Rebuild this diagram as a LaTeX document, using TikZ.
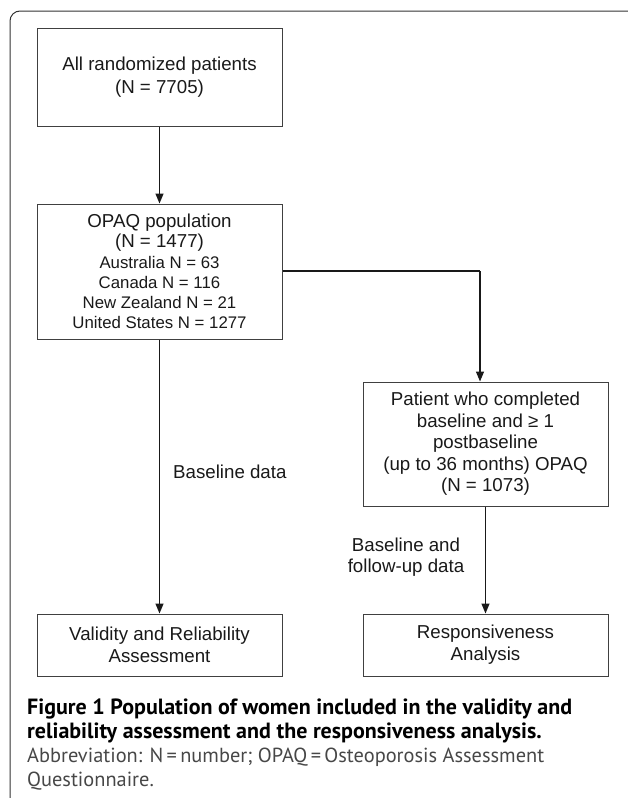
\documentclass[tikz,border=0pt]{standalone}
\usepackage{fontspec}
\setmainfont{Liberation Sans}
\newfontfamily\capfont{PT Sans}
\usetikzlibrary{arrows.meta}
\newcommand\smtxt{\fontsize{16.8}{20.2}\selectfont}
\newlength\capwd
\newlength\abbwd
\begin{document}
\settowidth\capwd{\capfont\bfseries\fontsize{20}{24}\selectfont Figure 1 Population of women included in the validity and}%
\settowidth\abbwd{\capfont\fontsize{20}{24}\selectfont Abbreviation: N\,=\,number; OPAQ\,=\,Osteoporosis Assessment}%
\pgfmathsetmacro\capsize{20*545/\capwd}%
\pgfmathsetmacro\abbsize{20*517/\abbwd}%
\begin{tikzpicture}[x=1pt,y=-1pt,
  box/.style={draw=black!75, line width=1pt, minimum width=245pt, inner sep=0pt, align=center,
    font=\fontsize{18.7}{20.2}\selectfont, text=black!90},
  lbl/.style={align=center, inner sep=0pt, font=\fontsize{18.7}{21}\selectfont, text=black!90},
  arr/.style={-{Triangle[width=8pt,length=10pt]}, line width=1.3pt, black!90},
  ln/.style={line width=1.3pt, black!90}]
\useasboundingbox (0,0) rectangle (628,798);
\draw[line width=1pt, black!80, rounded corners=10pt] (10,798) -- (10,11) -- (628,11);
\node[box, minimum height=98pt, font=\fontsize{18.7}{23}\selectfont] (all) at (159.5,77) {All randomized patients\\(N = 7705)};
\node[box, minimum height=135pt] (opaq) at (159.5,271.5) {OPAQ population\\(N = 1477)\\
  \smtxt Australia N = 63\\\smtxt Canada N = 116\\\smtxt New Zealand N = 21\\\smtxt United States N = 1277};
\node[box, minimum height=124pt, font=\fontsize{18.7}{21.5}\selectfont] (comp) at (485.5,444) {Patient who completed\\baseline and ≥ 1\\postbaseline\\(up to 36 months) OPAQ\\(N = 1073)};
\node[box, minimum height=62pt, font=\fontsize{18.7}{22}\selectfont] (valid) at (159.5,645) {Validity and Reliability\\Assessment};
\node[box, minimum height=62pt, font=\fontsize{18.7}{22}\selectfont] (resp) at (485.5,645) {Responsiveness\\Analysis};
\coordinate (turn) at (480,271);
\draw[arr] (all) -- (opaq);
\draw[ln] (opaq.east |- turn) -- (turn);
\draw[arr] (turn) -- (turn |- comp.north);
\draw[arr] (opaq) -- (valid);
\draw[arr] (comp) -- (resp);
\node[lbl, anchor=west] (bl) at (173,472) {Baseline data};
\node[lbl] (bf) at (406,557.5) {Baseline and\\follow-up data};
\node[anchor=west, inner sep=0pt, align=left, font=\capfont\fontsize{\capsize}{24}\selectfont\bfseries] (cap) at (27,721)
  {Figure 1 Population of women included in the validity and\\reliability assessment and the responsiveness analysis.};
\node[anchor=west, inner sep=0pt, align=left, text=black!72, font=\capfont\fontsize{\abbsize}{24}\selectfont] (abbr) at (27,769)
  {Abbreviation: N\,=\,number; OPAQ\,=\,Osteoporosis Assessment\\Questionnaire.};
\end{tikzpicture}
\end{document}
